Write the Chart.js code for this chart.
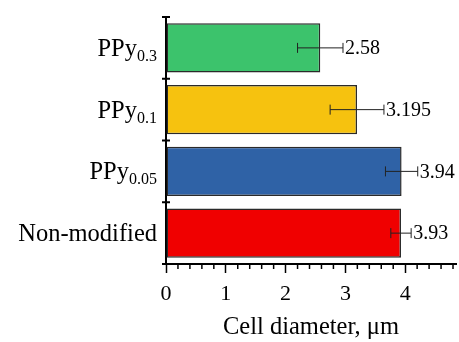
<!DOCTYPE html>
<html>
<head>
<meta charset="utf-8">
<script src="https://cdn.jsdelivr.net/npm/chart.js@4/dist/chart.umd.min.js"></script>
<style>
html,body{margin:0;padding:0;background:#fff;}
#wrap{width:459px;height:342px;position:relative;}
</style>
</head>
<body>
<div id="wrap"><canvas id="c" width="459" height="342"></canvas></div>
<script>
const labelMain = ['PPy', 'PPy', 'PPy', 'Non-modified'];
const labelSub = ['0.3', '0.1', '0.05', ''];
const values = [2.58, 3.195, 3.94, 3.93];
const errors = [0.38, 0.45, 0.27, 0.17];
const valueLabels = ['2.58', '3.195', '3.94', '3.93'];
const barColors = ['#3cc36c', '#f6c20f', '#2f62a6', '#f00000'];
const xTicks = [0, 1, 2, 3, 4];
const xMax = 4.85;
const xTitle = 'Cell diameter, \u03bcm';

const SERIF = '"Liberation Serif", "Times New Roman", serif';

const decor = {
  id: 'decor',
  afterDraw(chart) {
    const ctx = chart.ctx;
    const xs = chart.scales.x, ys = chart.scales.y;
    const area = chart.chartArea;
    ctx.save();
    // minor x ticks
    ctx.strokeStyle = '#000';
    ctx.lineWidth = 1.5;
    for (let i = 1; i < 25; i++) {
      const v = i * 0.2;
      if (Math.abs(v - Math.round(v)) < 1e-6) continue;
      const px = xs.getPixelForValue(v);
      ctx.beginPath();
      ctx.moveTo(px, area.bottom);
      ctx.lineTo(px, area.bottom + 5);
      ctx.stroke();
    }
    // y boundary ticks
    ctx.lineWidth = 2;
    for (let i = 0; i <= labelMain.length; i++) {
      const py = ys.getPixelForValue(i - 0.5);
      ctx.beginPath();
      ctx.moveTo(area.left - 4, py);
      ctx.lineTo(area.left + 4, py);
      ctx.stroke();
    }
    // error bars + value labels
    const meta = chart.getDatasetMeta(0);
    meta.data.forEach((bar, i) => {
      const py = bar.y;
      const x1 = xs.getPixelForValue(values[i] - errors[i]);
      const x2 = xs.getPixelForValue(values[i] + errors[i]);
      ctx.strokeStyle = '#222';
      ctx.lineWidth = 1;
      ctx.beginPath();
      ctx.moveTo(x1, py); ctx.lineTo(x2, py);
      ctx.moveTo(x1, py - 5); ctx.lineTo(x1, py + 5);
      ctx.moveTo(x2, py - 5); ctx.lineTo(x2, py + 5);
      ctx.stroke();
      ctx.fillStyle = '#000';
      ctx.font = '20px ' + SERIF;
      ctx.textAlign = 'left';
      ctx.textBaseline = 'middle';
      ctx.fillText(valueLabels[i], x2 + 2, py + 1);
    });
    // category labels with subscripts
    labelMain.forEach((m, i) => {
      const py = ys.getPixelForValue(i) + 8;
      const right = area.left - 9;
      ctx.fillStyle = '#000';
      ctx.textBaseline = 'alphabetic';
      ctx.textAlign = 'left';
      ctx.font = '16px ' + SERIF;
      const sw = labelSub[i] ? ctx.measureText(labelSub[i]).width : 0;
      ctx.font = '24.5px ' + SERIF;
      const mw = ctx.measureText(m).width;
      const start = right - sw - mw;
      ctx.fillText(m, start, py);
      if (labelSub[i]) {
        ctx.font = '16px ' + SERIF;
        ctx.fillText(labelSub[i], start + mw, py + 5);
      }
    });
    ctx.restore();
  }
};

new Chart(document.getElementById('c'), {
  type: 'bar',
  data: {
    labels: labelMain.map((m, i) => m + labelSub[i]),
    datasets: [{
      data: values,
      backgroundColor: barColors,
      borderColor: '#2a2a2a',
      borderWidth: 1.5,
      borderSkipped: false,
      barPercentage: 0.8,
      categoryPercentage: 1.0
    }]
  },
  options: {
    indexAxis: 'y',
    responsive: false,
    animation: false,
    devicePixelRatio: 1,
    layout: { padding: { top: 17, right: 3, left: 0, bottom: 0 } },
    plugins: { legend: { display: false }, tooltip: { enabled: false } },
    scales: {
      x: {
        min: 0, max: xMax,
        afterBuildTicks: s => { s.ticks = xTicks.map(v => ({ value: v })); },
        afterFit: s => { s.height = 342 - 264; },
        border: { display: true, color: '#000', width: 2 },
        grid: { drawOnChartArea: false, drawTicks: true, tickLength: 9, color: '#000', tickWidth: 1.5 },
        ticks: { color: '#000', font: { family: SERIF, size: 22 }, padding: 8, maxRotation: 0 },
        title: { display: true, text: xTitle, color: '#000', font: { family: SERIF, size: 24.5 }, padding: { top: 0, bottom: 0 } }
      },
      y: {
        afterFit: s => { s.width = 166; },
        border: { display: true, color: '#000', width: 2 },
        grid: { display: false },
        ticks: { display: false }
      }
    }
  },
  plugins: [decor]
});
</script>
</body>
</html>
